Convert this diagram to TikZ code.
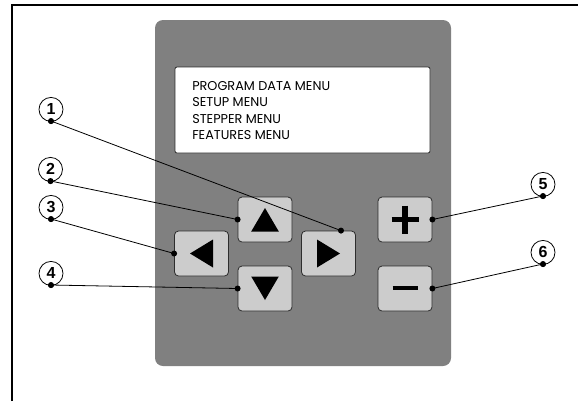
\documentclass[tikz,border=0pt]{standalone}
\usepackage{fontspec}
\setmainfont{Liberation Sans}
\newfontfamily\lcdfont{Poppins}
\usetikzlibrary{positioning,calc}
\definecolor{panelgray}{RGB}{128,128,128}
\definecolor{keygray}{RGB}{204,204,204}
\definecolor{keyedge}{RGB}{45,45,45}
\tikzset{panelbox/.style={fill=panelgray,rounded corners=6pt,minimum width=222pt,minimum height=259.5pt,inner sep=0pt},
  screenbox/.style={draw=keyedge,fill=white,rounded corners=1.5pt,line width=0.6pt,minimum width=191.25pt,minimum height=64.5pt,inner sep=0pt},
  key/.style={draw=keyedge,fill=keygray,rounded corners=3pt,line width=0.6pt,minimum width=40.5pt,minimum height=33.75pt,inner sep=0pt},
  callout/.style={circle,draw=black,fill=white,line width=0.6pt,minimum size=18pt,inner sep=0pt,font=\bfseries\fontsize{12}{12}\selectfont},
  tipdot/.style={circle,fill=black,minimum size=4.5pt,inner sep=0pt},
  leader/.style={black,line width=0.6pt},
  glyph/.style={fill=black}}

\begin{document}
\begin{tikzpicture}[x=0.75pt,y=-0.75pt]
\useasboundingbox (0,0) rectangle (578,401);
\draw[line width=1.3pt] (12,401) -- (12,5) -- (578,5);
\node[panelbox] (panel) at (303,193) {};
\node[screenbox] (screen) at (302.5,110) {};
\node[anchor=west,align=left,inner sep=0pt,font=\lcdfont\fontsize{9.6}{12.4}\selectfont] (menu) at (192,110.5) {PROGRAM DATA MENU\\SETUP MENU\\STEPPER MENU\\FEATURES MENU};
\node[key] (up) at (265,219.5) {};
\node[key] (left) at (201.5,253.5) {};
\node[key] (right) at (328.5,253.5) {};
\node[key] (down) at (265,288.5) {};
\node[key] (plus) at (405,219.5) {};
\node[key] (minus) at (405,288.5) {};
\fill[glyph] ($(up)+(-13.8,12)$) -- ($(up)+(13.8,12)$) -- ($(up)+(0,-11.5)$) -- cycle;
\fill[glyph] ($(down)+(-13.8,-12)$) -- ($(down)+(13.8,-12)$) -- ($(down)+(0,11.5)$) -- cycle;
\fill[glyph] ($(left)+(11.5,-14)$) -- ($(left)+(11.5,14)$) -- ($(left)+(-11.5,0)$) -- cycle;
\fill[glyph] ($(right)+(-11.5,-14)$) -- ($(right)+(-11.5,14)$) -- ($(right)+(11.5,0)$) -- cycle;
\draw[line width=3.9pt] ($(plus)+(-13.5,0)$) -- ($(plus)+(13.5,0)$) ($(plus)+(0,-14)$) -- ($(plus)+(0,14)$);
\draw[line width=3.6pt] ($(minus)+(-12.5,-0.5)$) -- ($(minus)+(12.5,-0.5)$);
\coordinate (k1) at ($(right.north)+(12.5,0)$);
\node[tipdot] (d1) at (51,121) {}; \node[tipdot] (d2) at (50.5,181) {};
\node[tipdot] (d3) at (51,219) {}; \node[tipdot] (d4) at (51,285) {};
\node[tipdot] (d5) at (543,196) {}; \node[tipdot] (d6) at (543,264) {};
\node[callout,above=-0.6pt of d1.center] (c1) {1};
\node[callout,above=-0.6pt of d2.center] (c2) {2};
\node[callout,above=-0.6pt of d3.center] (c3) {3};
\node[callout,above=-0.6pt of d4.center] (c4) {4};
\node[callout,above=-0.6pt of d5.center] (c5) {5};
\node[callout,above=-0.6pt of d6.center] (c6) {6};
\draw[leader] (d1.center) -- (k1); \draw[leader] (d2.center) -- (up.west);
\draw[leader] (d3.center) -- (left.west); \draw[leader] (d4.center) -- (down.west);
\draw[leader] (d5.center) -- (plus.east); \draw[leader] (d6.center) -- (minus.east);
\node[tipdot] at (d1) {}; \node[tipdot] at (d2) {}; \node[tipdot] at (d3) {};
\node[tipdot] at (d4) {}; \node[tipdot] at (d5) {}; \node[tipdot] at (d6) {};
\node[tipdot] at (k1) {}; \node[tipdot] at (up.west) {}; \node[tipdot] at (left.west) {};
\node[tipdot] at (down.west) {}; \node[tipdot] at (plus.east) {}; \node[tipdot] at (minus.east) {};
\end{tikzpicture}
\end{document}
